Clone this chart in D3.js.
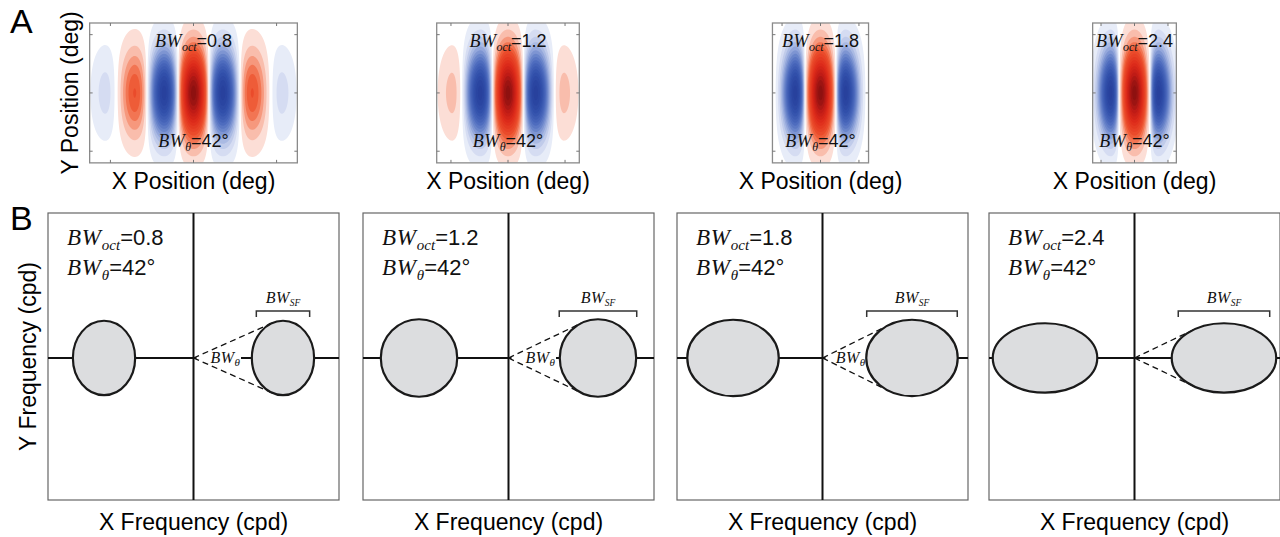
<!DOCTYPE html>
<html><head><meta charset="utf-8">
<script src="https://cdn.jsdelivr.net/npm/d3@7"></script>
<style>body{margin:0;background:#fff} svg{display:block}</style>
</head><body>
<svg id="fig" width="1280" height="537"></svg>
<script>
// ---------- data ----------
const bwOct = [0.8, 1.2, 1.8, 2.4];              // spatial-frequency bandwidth (octaves)
const bwOctLabels = ["0.8", "1.2", "1.8", "2.4"];
const bwTheta = [42, 42, 42, 42];                // orientation bandwidth (deg)
const spatialPeriod = 1;                         // deg  (peak frequency 1 cpd)
const sigmaX = [0.67, 0.46, 0.31, 0.27];         // Gabor envelope SD along x (deg)
const sigmaY = [0.47, 0.47, 0.47, 0.47];         // Gabor envelope SD along y (deg)
const peakFreq = 1;                              // cpd
const envRx = [0.348, 0.427, 0.511, 0.584];      // frequency envelope half-width (cpd)
const envRy = [0.416, 0.433, 0.427, 0.388];      // frequency envelope half-height (cpd)
const sfBracketHalf = [0.298, 0.433, 0.506, 0.511]; // BW_SF bracket half-width (cpd)
const showThetaLabel = [true, true, true, false];
const xLabelA = "X Position (deg)", yLabelA = "Y Position (deg)";
const xLabelB = "X Frequency (cpd)", yLabelB = "Y Frequency (cpd)";
const panelLetters = ["A", "B"];

// ---------- styles / layout ----------
const SERIF = "'Liberation Serif','Times New Roman',serif";
const SANS = "'Liberation Sans',Arial,Helvetica,sans-serif";
const svg = d3.select('#fig');

function bwLabel(sel, x, y, anchor, sub, rest, s) {
  const t = sel.append('text').attr('x', x).attr('y', y).attr('text-anchor', anchor).attr('fill', '#111');
  t.append('tspan').attr('font-family', SERIF).attr('font-style', 'italic').attr('font-size', s.big)
    .attr('letter-spacing', s.ls || 0).text('BW');
  t.append('tspan').attr('font-family', SERIF).attr('font-style', 'italic').attr('font-size', s.sub)
    .attr('letter-spacing', 0).attr('dy', s.dy).text(sub);
  if (rest) t.append('tspan').attr('font-family', SANS).attr('font-size', s.rest).attr('dy', -s.dy).text(rest);
  return t;
}

// panel letters
svg.append('text').attr('x', 10).attr('y', 33).attr('font-family', SANS).attr('font-size', 34).text(panelLetters[0]);
svg.append('text').attr('x', 10).attr('y', 230).attr('font-family', SANS).attr('font-size', 34).text(panelLetters[1]);

// ---------- Panel A : Gabor filters ----------
const pxPerDeg = 62;
const aCx = [193.5, 508, 820.5, 1134.5], aTop = 23;
const nLev = 16;
const levels = d3.range(1, nLev + 1).map(k => (k - 0.5) / nLev);
const redScale = d3.scaleLinear()
  .domain([0, 0.05, 0.12, 0.2, 0.28, 0.38, 0.6, 0.8, 1])
  .range(['#ffffff', '#fde4de', '#f9c0b0', '#f59074', '#f0643f', '#ea4a2a', '#de2c1a', '#c21c16', '#8a1010'])
  .interpolate(d3.interpolateRgb).clamp(true);
const blueScale = d3.scaleLinear()
  .domain([0, 0.06, 0.15, 0.28, 0.42, 0.58, 0.78, 1])
  .range(['#ffffff', '#e8edf8', '#cdd6ef', '#9fb1df', '#6e88cc', '#4a68bc', '#3352ac', '#27409c'])
  .interpolate(d3.interpolateRgb).clamp(true);

bwOct.forEach((b, i) => {
  const sx = sigmaX[i], sy = sigmaY[i];
  const xd = [-2.5 * sx, 2.5 * sx], yd = [-2.4 * sy, 2.4 * sy];
  const w = (xd[1] - xd[0]) * pxPerDeg, h = (yd[1] - yd[0]) * pxPerDeg;
  const x = d3.scaleLinear().domain(xd).range([aCx[i] - w / 2, aCx[i] + w / 2]);
  const y = d3.scaleLinear().domain(yd).range([aTop + h, aTop]);
  const g = svg.append('g');
  const clipId = 'clipA' + i;
  g.append('clipPath').attr('id', clipId).append('rect')
    .attr('x', x(xd[0])).attr('y', y(yd[1])).attr('width', w).attr('height', h);

  const nx = Math.round(w), ny = Math.round(h);
  const gx = d3.scaleLinear().domain([0, nx]).range(xd);
  const gy = d3.scaleLinear().domain([0, ny]).range([yd[1], yd[0]]);
  const vals = new Float64Array(nx * ny);
  for (let jj = 0; jj < ny; jj++) {
    const yv = gy(jj + 0.5);
    for (let ii = 0; ii < nx; ii++) {
      const xv = gx(ii + 0.5);
      vals[jj * nx + ii] = Math.cos(2 * Math.PI * xv / spatialPeriod) *
        Math.exp(-xv * xv / (2 * sx * sx) - yv * yv / (2 * sy * sy));
    }
  }
  const vmax = d3.max(vals), vmin = d3.min(vals);
  const pos = vals.map(v => v > 0 ? v / vmax : 0);
  const neg = vals.map(v => v < 0 ? v / vmin : 0);
  const path = d3.geoPath(d3.geoTransform({
    point(px, py) { this.stream.point(x(gx(px)), y(gy(py))); }
  }));
  const img = g.append('g').attr('clip-path', `url(#${clipId})`);
  img.append('rect').attr('x', x(xd[0])).attr('y', y(yd[1])).attr('width', w).attr('height', h).attr('fill', '#fff');
  const cont = d3.contours().size([nx, ny]).thresholds(levels);
  const mid = (k) => k < levels.length - 1 ? (levels[k] + levels[k + 1]) / 2 : (levels[k] + 1) / 2;
  img.selectAll('path.neg').data(cont(neg)).join('path').attr('class', 'neg')
    .attr('d', path).attr('fill', (d, k) => blueScale(mid(k)));
  img.selectAll('path.pos').data(cont(pos)).join('path').attr('class', 'pos')
    .attr('d', path).attr('fill', (d, k) => redScale(mid(k)));

  // box + ticks
  g.append('rect').attr('x', x(xd[0])).attr('y', y(yd[1])).attr('width', w).attr('height', h)
    .attr('fill', 'none').attr('stroke', '#8a8a8a').attr('stroke-width', 1.3);
  const xt = [-2 * sx, 0, 2 * sx], yt = [-2 * sy, 0, 2 * sy];
  const tk = 3;
  xt.forEach(v => {
    g.append('line').attr('x1', x(v)).attr('x2', x(v)).attr('y1', y(yd[0])).attr('y2', y(yd[0]) - tk).attr('stroke', '#777');
    g.append('line').attr('x1', x(v)).attr('x2', x(v)).attr('y1', y(yd[1])).attr('y2', y(yd[1]) + tk).attr('stroke', '#777');
  });
  yt.forEach(v => {
    g.append('line').attr('x1', x(xd[0])).attr('x2', x(xd[0]) + tk).attr('y1', y(v)).attr('y2', y(v)).attr('stroke', '#777');
    g.append('line').attr('x1', x(xd[1])).attr('x2', x(xd[1]) - tk).attr('y1', y(v)).attr('y2', y(v)).attr('stroke', '#777');
  });

  const sA = { big: 18, sub: 12, dy: 4, rest: 18, ls: 0.5 };
  bwLabel(g, aCx[i], 47, 'middle', 'oct', '=' + bwOctLabels[i], sA);
  bwLabel(g, aCx[i], 147, 'middle', 'θ', '=' + bwTheta[i] + '°', sA);

  g.append('text').attr('x', aCx[i]).attr('y', 189).attr('text-anchor', 'middle')
    .attr('font-family', SANS).attr('font-size', 23).text(xLabelA);
  if (i === 0) {
    g.append('text').attr('transform', `translate(78,${aTop + h / 2}) rotate(-90)`).attr('text-anchor', 'middle')
      .attr('font-family', SANS).attr('font-size', 23).text(yLabelA);
  }
});

// ---------- Panel B : frequency domain ----------
const bLeft = [48, 363, 677, 989], bW = 291, bTop = 213, bH = 287;
const bXd = [-1.626, 1.626], bYd = [-1.587, 1.620];

bwOct.forEach((b, i) => {
  const x = d3.scaleLinear().domain(bXd).range([bLeft[i], bLeft[i] + bW]);
  const y = d3.scaleLinear().domain(bYd).range([bTop + bH, bTop]);
  const g = svg.append('g');
  const x0 = x(0), y0 = y(0);

  g.append('rect').attr('x', bLeft[i]).attr('y', bTop).attr('width', bW).attr('height', bH)
    .attr('fill', 'none').attr('stroke', '#666').attr('stroke-width', 1.2);
  g.append('line').attr('x1', x0).attr('x2', x0).attr('y1', bTop).attr('y2', bTop + bH)
    .attr('stroke', '#111').attr('stroke-width', 2);
  g.append('line').attr('x1', bLeft[i]).attr('x2', bLeft[i] + bW).attr('y1', y0).attr('y2', y0)
    .attr('stroke', '#111').attr('stroke-width', 2);

  const cxR = x(peakFreq), cxL = x(-peakFreq);
  const rx = x(envRx[i]) - x(0), ry = y(0) - y(envRy[i]);

  // theta label (with mask over the axis)
  let thetaLabel = null;
  if (showThetaLabel[i]) {
    const mask = g.append('rect').attr('fill', '#fff');
    thetaLabel = bwLabel(g, x0 + 17, y0 + 5, 'start', 'θ', null, { big: 16, sub: 11, dy: 3, rest: 16, ls: 0.5 });
    const len = thetaLabel.node().getComputedTextLength();
    const start = Math.min(x0 + 17, cxR - rx - len - 1);
    thetaLabel.attr('x', start);
    mask.attr('x', x0 + 3).attr('y', y0 - 2.5).attr('width', start + len - x0 - 2).attr('height', 5);
  }

  // tangent dashed lines from origin to the right ellipse
  const d = cxR - x0;
  const m = ry / Math.sqrt(d * d - rx * rx);
  const xtp = d / (1 + m * m * rx * rx / (ry * ry));
  [1, -1].forEach(s => {
    g.append('line').attr('x1', x0).attr('y1', y0).attr('x2', x0 + xtp).attr('y2', y0 - s * m * xtp)
      .attr('stroke', '#111').attr('stroke-width', 1.3).attr('stroke-dasharray', '6,4');
  });

  [cxL, cxR].forEach(cx => {
    g.append('ellipse').attr('cx', cx).attr('cy', y0).attr('rx', rx).attr('ry', ry)
      .attr('fill', '#dcdddf').attr('stroke', '#1a1a1a').attr('stroke-width', 2.2);
  });
  if (thetaLabel) thetaLabel.raise();

  // BW_SF bracket
  const bx1 = x(peakFreq - sfBracketHalf[i]), bx2 = x(peakFreq + sfBracketHalf[i]);
  const by = 311;
  g.append('path').attr('d', `M${bx1},${by + 6}V${by}H${bx2}V${by + 6}`)
    .attr('fill', 'none').attr('stroke', '#333').attr('stroke-width', 1.5);
  bwLabel(g, cxR, 303, 'middle', 'SF', null, { big: 16, sub: 9.5, dy: 2.5, rest: 16, ls: 0.5 });

  // corner labels
  const sB = { big: 23, sub: 15, dy: 5, rest: 22, ls: 0.8 };
  bwLabel(g, bLeft[i] + 19, 245, 'start', 'oct', '=' + bwOctLabels[i], sB);
  bwLabel(g, bLeft[i] + 19, 275, 'start', 'θ', '=' + bwTheta[i] + '°', sB);

  g.append('text').attr('x', x0).attr('y', 530).attr('text-anchor', 'middle')
    .attr('font-family', SANS).attr('font-size', 23).text(xLabelB);
  if (i === 0) {
    g.append('text').attr('transform', `translate(36,${bTop + bH / 2}) rotate(-90)`).attr('text-anchor', 'middle')
      .attr('font-family', SANS).attr('font-size', 23).text(yLabelB);
  }
});
</script>
</body></html>
